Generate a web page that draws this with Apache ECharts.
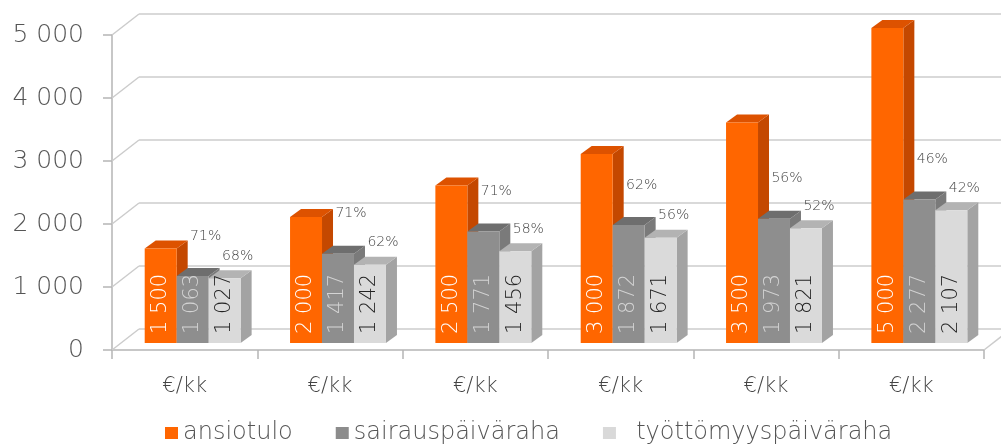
<!DOCTYPE html>
<html>
<head>
<meta charset="utf-8">
<script src="https://cdn.jsdelivr.net/npm/echarts@6/dist/echarts.min.js"></script>
<style>
  html, body { margin: 0; padding: 0; background: #fff; }
  #chart { width: 1001px; height: 448px; }
</style>
</head>
<body>
<div id="chart"></div>
<script>
const categories = ['€/kk', '€/kk', '€/kk', '€/kk', '€/kk', '€/kk'];
const ansiotulo = [1500, 2000, 2500, 3000, 3500, 5000];
const sairauspaivaraha = [1063, 1417, 1771, 1872, 1973, 2277];
const tyottomyyspaivaraha = [1027, 1242, 1456, 1671, 1821, 2107];
const sairausPct = ['71%', '71%', '71%', '62%', '56%', '46%'];
const tyottoPct = ['68%', '62%', '58%', '56%', '52%', '42%'];
const yTicks = [0, 1000, 2000, 3000, 4000, 5000];

const FONT = '"DejaVu Sans", sans-serif';
const DX = 27, DY = -21;      // wall depth
const BX = 11, BY = -8;       // bar depth
const SX = 8, SY = -7;        // bars sit a bit behind the front edge

function fmt(v) {
    return String(v).replace(/\B(?=(\d{3})+(?!\d))/g, ' ');
}

// 3d bar: front, top, side + value label inside
function bar3d(k, c, labelColor, pcts, pctOffset) {
    return function (params, api) {
        let i = api.value(0), v = api.value(1);
        let band = api.size([1, 0])[0];
        let w = band * 0.22;
        let top = api.coord([i, v]);
        let base = api.coord([i, 0]);
        let x0 = top[0] - 1.5 * w + k * w + SX;
        let x1 = x0 + w;
        let yT = top[1] + SY, yB = base[1] + SY;
        let children = [
            {type: 'polygon', shape: {points: [[x1, yT], [x1 + BX, yT + BY], [x1 + BX, yB + BY], [x1, yB]]},
             style: {fill: c[2]}},
            {type: 'polygon', shape: {points: [[x0, yT], [x1, yT], [x1 + BX, yT + BY], [x0 + BX, yT + BY]]},
             style: {fill: c[1]}},
            {type: 'rect', shape: {x: x0, y: yT, width: w, height: yB - yT}, style: {fill: c[0]}},
            {type: 'text', x: (x0 + x1) / 2, y: yB - 9, rotation: Math.PI / 2,
             style: {text: fmt(v), fill: labelColor, font: '200 21px ' + FONT, align: 'left', verticalAlign: 'middle'}}
        ];
        if (pcts) {
            children.push({type: 'text', x: (x0 + x1) / 2 + 13, y: yT - pctOffset,
                style: {text: pcts[i], fill: '#444', font: '200 14px ' + FONT, align: 'center', verticalAlign: 'middle'}});
        }
        return {type: 'group', children: children};
    };
}

let dom = document.getElementById('chart');
let myChart = echarts.init(dom, null, {renderer: 'canvas'});

const option = {
    animation: false,
    backgroundColor: '#fff',
    grid: [
        {left: 112, right: 17, top: 35, bottom: 98, outerBoundsMode: 'none'},
        {left: 112 + DX, right: 17 - DX, top: 35 + DY, bottom: 98 - DY, outerBoundsMode: 'none'}
    ],
    xAxis: [
        {
            type: 'category', gridIndex: 0, data: categories,
            axisLine: {lineStyle: {color: '#b5b5b5', width: 1.5}},
            axisTick: {show: true, length: 9, lineStyle: {color: '#b5b5b5', width: 1.5}},
            axisLabel: {margin: 26, fontSize: 21, color: '#444', fontFamily: FONT, fontWeight: 200}
        },
        {type: 'category', gridIndex: 1, data: categories, show: false}
    ],
    yAxis: [
        {
            type: 'value', gridIndex: 0, min: 0, max: 5000, interval: 1000,
            axisLine: {show: true, lineStyle: {color: '#b5b5b5', width: 1.5}},
            axisTick: {show: true, length: 9, lineStyle: {color: '#b5b5b5', width: 1.5}},
            axisLabel: {margin: 28, fontSize: 25, color: '#555', fontFamily: FONT, fontWeight: 200,
                        formatter: v => fmt(v)},
            splitLine: {show: false}
        },
        {
            type: 'value', gridIndex: 1, min: 0, max: 5000, interval: 1000,
            axisLine: {show: false}, axisTick: {show: false}, axisLabel: {show: false},
            splitLine: {show: true, lineStyle: {color: '#cccccc', width: 1.5}}
        }
    ],
    legend: {
        left: 160, top: 416,
        icon: 'rect', itemWidth: 13, itemHeight: 12, itemGap: 43,
        textStyle: {fontSize: 24, color: '#555', fontFamily: FONT, fontWeight: 200},
        formatter: name => name === 'työttömyyspäiväraha' ? '  ' + name : name,
        data: ['ansiotulo', 'sairauspäiväraha', 'työttömyyspäiväraha']
    },
    series: [
        {
            type: 'custom', name: 'walls', xAxisIndex: 0, yAxisIndex: 0, silent: true,
            data: yTicks.map(v => [0, v]),
            renderItem: function (params, api) {
                let cs = params.coordSys;
                let y = api.coord([0, api.value(1)])[1];
                let children = [{type: 'line', shape: {x1: cs.x, y1: y, x2: cs.x + DX, y2: y + DY},
                                 style: {stroke: '#cccccc', lineWidth: 1.5}}];
                if (api.value(1) === 0) {
                    children.push({type: 'line', shape: {x1: cs.x + cs.width, y1: y, x2: cs.x + cs.width + DX, y2: y + DY},
                                   style: {stroke: '#cccccc', lineWidth: 1.5}});
                }
                return {type: 'group', children: children};
            }
        },
        {
            type: 'custom', name: 'ansiotulo', itemStyle: {color: '#ff6600'},
            data: ansiotulo.map((v, i) => [i, v]),
            renderItem: bar3d(0, ['#ff6600', '#dd5200', '#c44800'], '#fff', null, 0)
        },
        {
            type: 'custom', name: 'sairauspäiväraha', itemStyle: {color: '#8c8c8c'},
            data: sairauspaivaraha.map((v, i) => [i, v]),
            renderItem: bar3d(1, ['#8e8e8e', '#6e6e6e', '#7a7a7a'], '#d4d4d4', sairausPct, 40)
        },
        {
            type: 'custom', name: 'työttömyyspäiväraha', itemStyle: {color: '#d9d9d9'},
            data: tyottomyyspaivaraha.map((v, i) => [i, v]),
            renderItem: bar3d(2, ['#dadada', '#b3b3b3', '#a3a3a3'], '#222', tyottoPct, 22)
        }
    ]
};
myChart.setOption(option, true);
</script>
</body>
</html>
